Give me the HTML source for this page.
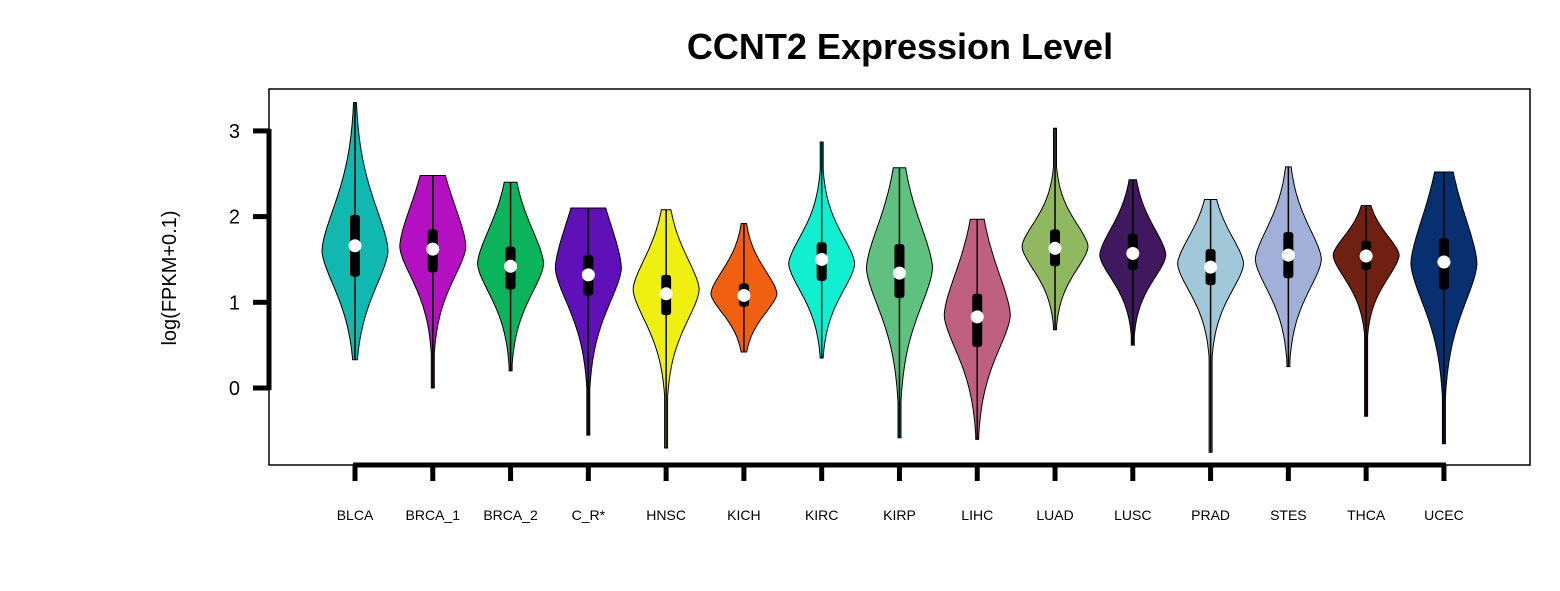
<!DOCTYPE html>
<html><head><meta charset="utf-8"><style>
body{margin:0;background:#fff;}
svg text{font-family:"Liberation Sans",Arial,sans-serif;}
</style></head><body>
<svg id="chart" width="1560" height="586" xmlns="http://www.w3.org/2000/svg">
<rect x="0" y="0" width="1560" height="586" fill="#fff"/>
<text x="900" y="59" text-anchor="middle" font-size="36" font-weight="bold">CCNT2 Expression Level</text>
<rect x="269" y="89" width="1261" height="376" fill="none" stroke="#000" stroke-width="1.5"/>
<text transform="translate(176,278) rotate(-90)" text-anchor="middle" font-size="20">log(FPKM+0.1)</text>
<g id="axes"></g>
<g id="violins"></g>
</svg>
<script>
const categories=["BLCA","BRCA_1","BRCA_2","C_R*","HNSC","KICH","KIRC","KIRP","LIHC","LUAD","LUSC","PRAD","STES","THCA","UCEC"];
const colors=["#10b8b0","#b40fc0","#0bb35a","#6010b8","#f0f010","#f06010","#10f0d0","#60c080","#c06080","#90b860","#401860","#a0c8d8","#a0b0d8","#702010","#083070"];
const mins=[0.33,0,0.2,-0.55,-0.7,0.42,0.35,-0.58,-0.6,0.68,0.5,-0.75,0.25,-0.33,-0.65];
const maxs=[3.33,2.48,2.4,2.1,2.08,1.92,2.87,2.57,1.97,3.03,2.43,2.2,2.58,2.13,2.52];
const medians=[1.66,1.62,1.42,1.32,1.1,1.08,1.5,1.34,0.83,1.63,1.57,1.41,1.55,1.54,1.47];
const q1s=[1.3,1.35,1.15,1.08,0.85,0.95,1.25,1.05,0.48,1.42,1.38,1.2,1.28,1.38,1.15];
const q3s=[2.02,1.85,1.65,1.55,1.32,1.22,1.7,1.68,1.1,1.85,1.8,1.62,1.82,1.72,1.75];
const peaks=[1.6,1.65,1.45,1.4,1.15,1.1,1.45,1.4,0.85,1.65,1.55,1.45,1.5,1.55,1.45];
const sdUp=[0.55,0.55,0.45,0.6,0.4,0.3,0.35,0.55,0.55,0.3,0.35,0.35,0.4,0.25,0.6];
const sdDown=[0.45,0.4,0.38,0.45,0.4,0.25,0.35,0.5,0.45,0.3,0.3,0.35,0.38,0.3,0.5];
const yTicks=[0,1,2,3];
const NS="http://www.w3.org/2000/svg";
const y=v=>388-v*85.7;
const x=i=>355+i*77.78;
const HW=33;
const ax=document.getElementById('axes');
function mk(tag,attrs,parent){const e=document.createElementNS(NS,tag);for(const k in attrs)e.setAttribute(k,attrs[k]);parent.appendChild(e);return e;}
let yl=mk('line',{x1:269,x2:269,y1:y(yTicks[0])+2,y2:y(yTicks[yTicks.length-1])-2,stroke:'#000','stroke-width':5},ax);


yTicks.forEach(t=>{
 let l=mk('line',{x1:253,x2:269,y1:y(t),y2:y(t),stroke:'#000','stroke-width':5},ax);
 
 
 let tx=mk('text',{x:240,y:y(t)+7,'text-anchor':'end','font-size':20},ax);tx.textContent=t;
 
 
});
let xl=mk('line',{x1:x(0)-2,x2:x(categories.length-1)+2,y1:465,y2:465,stroke:'#000','stroke-width':5},ax);


const vg=document.getElementById('violins');
categories.forEach((c,i)=>{
 const cx=x(i);
 let t=mk('line',{x1:cx,x2:cx,y1:465,y2:481,stroke:'#000','stroke-width':5},ax);
 
 
 let lb=mk('text',{x:cx,y:520,'text-anchor':'middle','font-size':14},ax);lb.textContent=c;
 
 
 const g=mk('g',{},vg);
 
 
 const N=100,right=[],left=[];
 for(let k=0;k<=N;k++){
  const v=mins[i]+(maxs[i]-mins[i])*k/N;
  const s=v>=peaks[i]?sdUp[i]:sdDown[i];
  const w=Math.max(1.5,HW*Math.exp(-Math.pow(Math.abs(v-peaks[i])/s,1.6)/2));
  right.push([cx+w,y(v)]);left.push([cx-w,y(v)]);
 }
 const pts=right.concat(left.reverse()).map(p=>p[0].toFixed(1)+','+p[1].toFixed(1)).join(' ');
 const p=mk('polygon',{points:pts,fill:colors[i],stroke:'#000','stroke-width':1},g);
 
 
 const wl=mk('line',{x1:cx,x2:cx,y1:y(mins[i]),y2:y(maxs[i]),stroke:'#000','stroke-width':1.5},g);
 
 
 const bx=mk('rect',{x:cx-5,y:y(q3s[i]),width:10,height:y(q1s[i])-y(q3s[i]),fill:'#000',rx:3},g);
 
 
 const md=mk('circle',{cx:cx,cy:y(medians[i]),r:6.5,fill:'#fff'},g);
 
 
});
</script>
</body></html>
